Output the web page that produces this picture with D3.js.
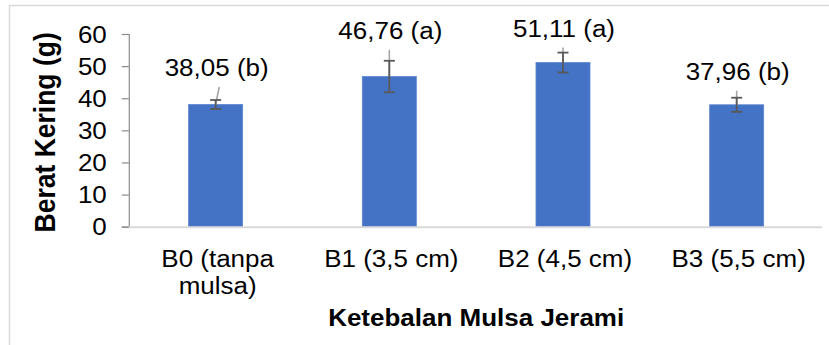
<!DOCTYPE html>
<html>
<head>
<meta charset="utf-8">
<script src="https://cdn.jsdelivr.net/npm/d3@7"></script>
<style>
  html, body { margin: 0; padding: 0; background: #fff; }
  svg { display: block; font-family: "Liberation Sans", Arial, Helvetica, sans-serif; }
</style>
</head>
<body>
<svg id="chart" width="829" height="345"></svg>
<script>
// Dry weight per straw-mulch thickness treatment
const categories = ["B0 (tanpa mulsa)", "B1 (3,5 cm)", "B2 (4,5 cm)", "B3 (5,5 cm)"];
const means = [38.05, 46.76, 51.11, 37.96];
const errors = [1.4, 4.9, 3.1, 2.2];
const letters = ["b", "a", "a", "b"];
const yTicks = [0, 10, 20, 30, 40, 50, 60];

// Layout
const W = 829, H = 345;
const SX = 1.13;            // horizontal text stretch
const FS = 23;              // tick / label font size
const plot = { left: 128.8, right: 823.5, top: 34, bottom: 226.7 };
const labelLift = [24, 22, 16, 18];   // label baseline gap above error bar top (px)
const leaderLean = [3.6, 0, 0, 0];    // horizontal offset of leader-line top (px)

const svg = d3.select("#chart");

// outer chart frame (only top and left edges fall inside the canvas)
svg.append("path")
  .attr("d", `M9.5,${H} V5.5 H${W}`)
  .attr("fill", "none")
  .attr("stroke", "#d9d9d9")
  .attr("stroke-width", 1.5);

const x = d3.scaleBand()
  .domain(categories)
  .range([plot.left, plot.right])
  .paddingInner(0.689)
  .paddingOuter(0.3445);

const y = d3.scaleLinear()
  .domain([0, 60])
  .range([plot.bottom, plot.top]);

function stretchedText(sel, tx, ty) {
  return sel.attr("transform", `translate(${tx},${ty}) scale(${SX},1)`);
}

// y axis
const yAxis = svg.append("g")
  .attr("transform", `translate(${plot.left},0)`)
  .call(d3.axisLeft(y).tickValues(yTicks).tickSize(7).tickPadding(0).tickFormat(d3.format("d")));
yAxis.select(".domain").attr("stroke", "#8c8c8c").attr("stroke-width", 1.2);
yAxis.selectAll(".tick line").attr("stroke", "#8c8c8c").attr("stroke-width", 1.2);
yAxis.selectAll(".tick text").remove();
yAxis.selectAll(".tick").append("text")
  .attr("transform", `translate(-22,0) scale(${SX},1)`)
  .attr("text-anchor", "end")
  .attr("dy", "0.35em")
  .attr("fill", "#000")
  .style("font-size", FS + "px")
  .style("font-family", "'Liberation Sans', Arial, sans-serif")
  .text(d => d);

// bars
svg.append("g").selectAll("rect")
  .data(means)
  .join("rect")
  .attr("x", (d, i) => x(categories[i]))
  .attr("y", d => y(d))
  .attr("width", x.bandwidth())
  .attr("height", d => y(0) - y(d))
  .attr("fill", "#4472c4")
  .attr("stroke", "#5b86d2")
  .attr("stroke-width", 0.8);

// x axis baseline
svg.append("line")
  .attr("x1", plot.left).attr("x2", plot.right - 1.5)
  .attr("y1", plot.bottom + 0.5).attr("y2", plot.bottom + 0.5)
  .attr("stroke", "#d9d9d9")
  .attr("stroke-width", 2);

const cx = i => x(categories[i]) + x.bandwidth() / 2;
const labelBase = i => y(means[i] + errors[i]) - labelLift[i];

// leader lines from data labels to bar tops
svg.append("g").selectAll("line")
  .data(means)
  .join("line")
  .attr("x1", (d, i) => cx(i) + leaderLean[i])
  .attr("y1", (d, i) => labelBase(i) + 11)
  .attr("x2", (d, i) => cx(i))
  .attr("y2", d => y(d))
  .attr("stroke", "#a6a6a6")
  .attr("stroke-width", 1.6);

// error bars
const eb = svg.append("g").attr("stroke", "#595959").attr("stroke-width", 1.8);
means.forEach((m, i) => {
  const c = cx(i), hi = y(m + errors[i]), lo = y(m - errors[i]);
  eb.append("line").attr("x1", c).attr("x2", c).attr("y1", hi).attr("y2", lo);
  eb.append("line").attr("x1", c - 5.5).attr("x2", c + 5.5).attr("y1", hi).attr("y2", hi);
  eb.append("line").attr("x1", c - 5.5).attr("x2", c + 5.5).attr("y1", lo).attr("y2", lo);
});

// data labels: value with significance letter
const fmt = v => v.toFixed(2).replace(".", ",");
svg.append("g").selectAll("text")
  .data(means)
  .join("text")
  .each(function (d, i) { stretchedText(d3.select(this), cx(i) + 1, labelBase(i)); })
  .attr("text-anchor", "middle")
  .attr("fill", "#000")
  .style("font-size", FS + "px")
  .text((d, i) => `${fmt(d)} (${letters[i]})`);

// category labels, wrapped to the band step
const step = x.step();
const catG = svg.append("g");
categories.forEach((c, i) => {
  const t = catG.append("text")
    .attr("text-anchor", "middle")
    .attr("fill", "#000")
    .style("font-size", FS + "px");
  stretchedText(t, cx(i) + 2, 267);
  const words = c.split(" ");
  let line = [], lineNo = 0;
  let ts = t.append("tspan").attr("x", 0).attr("y", 0);
  words.forEach(w => {
    line.push(w);
    ts.text(line.join(" "));
    if (ts.node().getComputedTextLength() * SX > step - 8 && line.length > 1) {
      line.pop();
      ts.text(line.join(" "));
      line = [w];
      lineNo++;
      ts = t.append("tspan").attr("x", 0).attr("y", lineNo * 27).text(w);
    }
  });
});

// axis titles
stretchedText(svg.append("text"), (plot.left + plot.right) / 2, 326)
  .attr("text-anchor", "middle")
  .attr("fill", "#000")
  .style("font-size", "23px")
  .style("font-weight", "bold")
  .text("Ketebalan Mulsa Jerami");

svg.append("text")
  .attr("transform", `translate(55,${(plot.top + plot.bottom) / 2 + 2}) scale(${SX},1) rotate(-90)`)
  .attr("text-anchor", "middle")
  .attr("fill", "#000")
  .style("font-size", "26.5px")
  .style("font-weight", "bold")
  .text("Berat Kering (g)");
</script>
</body>
</html>
